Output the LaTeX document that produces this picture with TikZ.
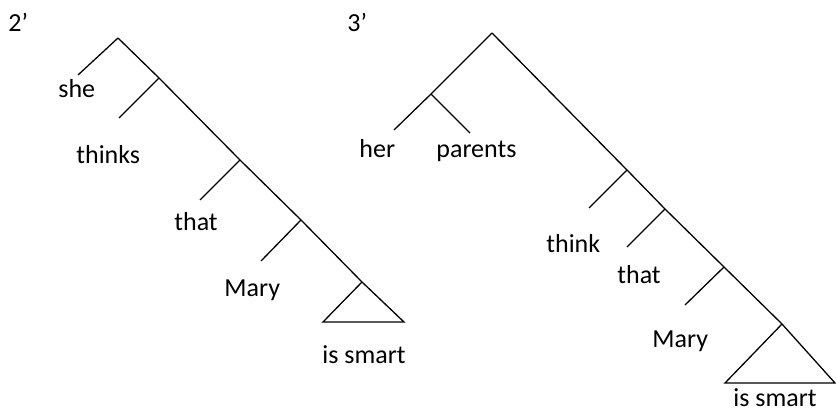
\documentclass[tikz,border=0pt]{standalone}
\usepackage{fontspec}
\setmainfont{Carlito}
\usetikzlibrary{positioning}
\tikzset{
  ag/.style={line width=0.65pt,line join=miter},
  szo/.style={inner sep=0pt,anchor=base west,font=\fontsize{13}{15}\selectfont},
}
\begin{document}
\begin{tikzpicture}[x=0.5pt,y=-0.5pt]
  \useasboundingbox (0,0) rectangle (836,412);
  % 2'
  \node[szo] (ket) at (8,32) {2’};
  \coordinate (a0) at (118,38);  \coordinate (a1) at (159,78);
  \coordinate (a2) at (240,160); \coordinate (a3) at (301,220);
  \coordinate (a4) at (362,282);
  \coordinate (e0) at (78,75);   \coordinate (e1) at (119,118);
  \coordinate (e2) at (200,200); \coordinate (e3) at (261,261);
  \coordinate (tb) at (323,322); \coordinate (tj) at (404,322);
  \draw[ag] (a0) -- (a1) -- (a2) -- (a3) -- (a4) -- (tj) -- (tb) -- (a4);
  \draw[ag] (a0) -- (e0);
  \draw[ag] (a1) -- (e1);
  \draw[ag] (a2) -- (e2);
  \draw[ag] (a3) -- (e3);
  \node[szo] (she) at (58,97) {she};
  \node[szo] (thinks) at (76,163) {thinks};
  \node[szo] (that) at (174,230) {that};
  \node[szo] (mary) at (224,296) {Mary};
  \node[szo] (smart) at (322,363) {is smart};
  % 3'
  \node[szo] (har) at (347,32) {3’};
  \coordinate (b0) at (492,33);  \coordinate (np) at (431,94);
  \coordinate (b1) at (627,170); \coordinate (b2) at (665,209);
  \coordinate (b3) at (724,267); \coordinate (b4) at (782,324);
  \coordinate (f0) at (394,130); \coordinate (f1) at (470,133);
  \coordinate (f2) at (589,208); \coordinate (f3) at (627,247);
  \coordinate (f4) at (685,305);
  \coordinate (ub) at (725,383); \coordinate (uj) at (835,383);
  \draw[ag] (b0) -- (b1) -- (b2) -- (b3) -- (b4) -- (uj) -- (ub) -- (b4);
  \draw[ag] (b0) -- (np) -- (f0);
  \draw[ag] (np) -- (f1);
  \draw[ag] (b1) -- (f2);
  \draw[ag] (b2) -- (f3);
  \draw[ag] (b3) -- (f4);
  \node[szo] (her) at (359,157) {her};
  \node[szo] (parents) at (436,157) {parents};
  \node[szo] (think) at (546,252) {think};
  \node[szo] (that2) at (617,283) {that};
  \node[szo] (mary2) at (652,347) {Mary};
  \node[szo] (smart2) at (733,406) {is smart};
\end{tikzpicture}
\end{document}
